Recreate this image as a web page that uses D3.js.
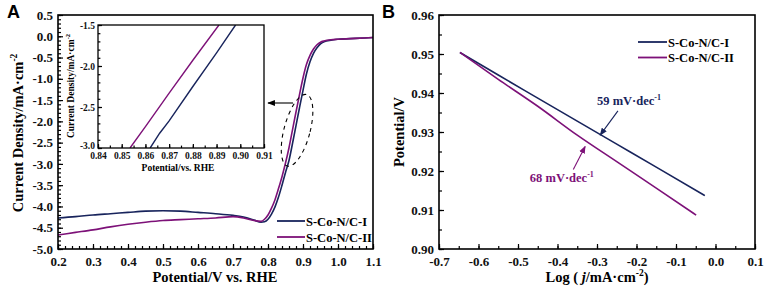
<!DOCTYPE html>
<html>
<head>
<meta charset="utf-8">
<script src="https://cdn.jsdelivr.net/npm/d3@7"></script>
<style>
  body { margin: 0; background: #fff; }
  svg text { font-family: "Liberation Serif", "Times New Roman", serif; font-weight: 700; }
  svg text.panel { font-family: "Liberation Sans", Arial, sans-serif; }
</style>
</head>
<body>
<div id="chart"></div>
<script>
// ---- data ----
const seriesNames = ["S-Co-N/C-I", "S-Co-N/C-II"];
const colors = ["#18245c", "#7d1178"];

// panel A: LSV curves
const lsvPotential = [0.20, 0.25, 0.30, 0.35, 0.40, 0.45, 0.50, 0.55, 0.60, 0.65, 0.70, 0.73, 0.76, 0.78, 0.79,
  0.80, 0.81, 0.82, 0.83, 0.84, 0.85, 0.86, 0.87, 0.88, 0.89, 0.90, 0.91, 0.92, 0.93, 0.94, 0.95, 0.96, 0.98, 1.00, 1.05, 1.10];
const lsvI = [-4.27, -4.24, -4.20, -4.17, -4.14, -4.11, -4.10, -4.11, -4.14, -4.17, -4.21, -4.25, -4.32, -4.37, -4.36,
  -4.30, -4.18, -4.01, -3.78, -3.50, -3.20, -2.92, -2.52, -2.10, -1.68, -1.27, -0.88, -0.60, -0.40, -0.27, -0.18, -0.13, -0.09, -0.07, -0.05, -0.03];
const lsvII = [-4.67, -4.61, -4.55, -4.48, -4.42, -4.37, -4.33, -4.31, -4.29, -4.27, -4.24, -4.27, -4.33, -4.35, -4.30,
  -4.20, -4.04, -3.84, -3.58, -3.30, -2.98, -2.62, -2.20, -1.78, -1.37, -0.98, -0.66, -0.45, -0.30, -0.20, -0.14, -0.11, -0.08, -0.07, -0.05, -0.03];

// inset (zoom of the rise)
const insetPotI = [0.862, 0.866, 0.870, 0.880, 0.890, 0.898];
const insetJI = [-3.00, -2.82, -2.67, -2.25, -1.84, -1.50];
const insetPotII = [0.8535, 0.860, 0.870, 0.880, 0.891];
const insetJII = [-3.00, -2.74, -2.33, -1.93, -1.50];

// panel B: Tafel plots
const tafelLogI = [-0.647, -0.55, -0.45, -0.35, -0.25, -0.15, -0.027];
const tafelPotI = [0.9504, 0.9446, 0.9387, 0.9328, 0.9269, 0.9210, 0.9137];
const tafelLogII = [-0.647, -0.55, -0.45, -0.35, -0.25, -0.15, -0.049];
const tafelPotII = [0.9504, 0.9435, 0.9366, 0.9292, 0.9224, 0.9156, 0.9087];
const tafelSlopes = ["59", "68"];

const W = 765, H = 287;
const svg = d3.select("#chart").append("svg").attr("width", W).attr("height", H);

const defs = svg.append("defs");
["#000"].concat(colors).forEach((c, i) => {
  defs.append("marker")
    .attr("id", "arr" + i).attr("viewBox", "0 0 10 10").attr("refX", 9).attr("refY", 5)
    .attr("markerWidth", 7).attr("markerHeight", 7).attr("orient", "auto")
    .append("path").attr("d", "M0,1 L10,5 L0,9 Z").attr("fill", c);
});

function zip(xs, ys) { return xs.map((x, i) => [x, ys[i]]); }

// draws inward ticks + labels on left/bottom, plus a frame
function frame(g, x, y, opt) {
  const xr = x.range(), yr = y.range();
  const xAx = d3.axisBottom(x).tickValues(opt.xTicks).tickFormat(opt.xFmt)
    .tickSizeInner(-opt.tick).tickSizeOuter(0).tickPadding(opt.xPad);
  const yAx = d3.axisLeft(y).tickValues(opt.yTicks).tickFormat(opt.yFmt)
    .tickSizeInner(-opt.tick).tickSizeOuter(0).tickPadding(opt.yPad);
  const gx = g.append("g").attr("transform", `translate(0,${yr[0]})`).call(xAx);
  const gy = g.append("g").attr("transform", `translate(${xr[0]},0)`).call(yAx);
  g.append("g").attr("transform", `translate(0,${yr[0]})`)
    .call(d3.axisBottom(x).tickValues(opt.xMinor).tickFormat("").tickSizeInner(-opt.tick * 0.6).tickSizeOuter(0));
  g.append("g").attr("transform", `translate(${xr[0]},0)`)
    .call(d3.axisLeft(y).tickValues(opt.yMinor).tickFormat("").tickSizeInner(-opt.tick * 0.6).tickSizeOuter(0));
  g.selectAll(".domain").remove();
  g.selectAll(".tick line").attr("stroke", "#000").attr("stroke-width", 1.2);
  [gx, gy].forEach(a => {
    a.attr("font-size", opt.font).attr("font-family", null);
    a.selectAll("text").attr("fill", "#111");
  });
  g.append("rect").attr("x", xr[0]).attr("y", yr[1])
    .attr("width", xr[1] - xr[0]).attr("height", yr[0] - yr[1])
    .attr("fill", "none").attr("stroke", "#000").attr("stroke-width", opt.frameW);
  return { gx, gy };
}

const minus = f => (d => f(d).replace("−", "-"));

// ---------- Panel A ----------
const xA = d3.scaleLinear().domain([0.2, 1.1]).range([58, 373]);
const yA = d3.scaleLinear().domain([-5.0, 0.5]).range([249, 15]);
const gA = svg.append("g");

const lineA = d3.line().x(d => xA(d[0])).y(d => yA(d[1])).curve(d3.curveMonotoneX);
[lsvI, lsvII].forEach((s, i) => {
  gA.append("path").datum(zip(lsvPotential, s))
    .attr("fill", "none").attr("stroke", colors[i]).attr("stroke-width", 1.6).attr("d", lineA);
});

frame(gA, xA, yA, {
  xTicks: d3.range(0.2, 1.1001, 0.1), yTicks: d3.range(-5, 0.5001, 0.5),
  xMinor: d3.range(0.2, 1.1001, 0.02), yMinor: d3.range(-5, 0.5001, 0.1),
  xFmt: d3.format(".1f"), yFmt: minus(d3.format(".1f")),
  tick: 5, xPad: 8, yPad: 5, font: 13, frameW: 1.6
});

// dashed ellipse + arrow
gA.append("ellipse")
  .attr("transform", `translate(${xA(0.883)},${yA(-2.21)}) rotate(15)`)
  .attr("rx", 13).attr("ry", 37)
  .attr("fill", "none").attr("stroke", "#000").attr("stroke-width", 1.1).attr("stroke-dasharray", "4,4");
gA.append("line")
  .attr("x1", 293).attr("y1", 103).attr("x2", 268).attr("y2", 103)
  .attr("stroke", "#000").attr("stroke-width", 1.1).attr("marker-end", "url(#arr0)");

// legend A
seriesNames.forEach((n, i) => {
  const ly = 221 + i * 16;
  gA.append("line").attr("x1", 277).attr("x2", 305).attr("y1", ly).attr("y2", ly)
    .attr("stroke", colors[i]).attr("stroke-width", 1.8);
  gA.append("text").attr("x", 306).attr("y", ly + 4.5).attr("font-size", 12.5).text(n);
});

// titles A
gA.append("text").attr("x", 215).attr("y", 282).attr("text-anchor", "middle").attr("font-size", 14.5)
  .text("Potential/V vs. RHE");
const tA = gA.append("text").attr("transform", "translate(23,133) rotate(-90)")
  .attr("text-anchor", "middle").attr("font-size", 14.5);
tA.append("tspan").text("Current Density/mA·cm");
tA.append("tspan").attr("dy", -6).attr("font-size", 9.5).text("-2");

gA.append("text").attr("class", "panel").attr("x", 7).attr("y", 18).attr("font-size", 18).text("A");

// inset
const xI = d3.scaleLinear().domain([0.84, 0.91]).range([98, 264]);
const yI = d3.scaleLinear().domain([-3.0, -1.5]).range([148, 25]);
const gI = gA.append("g");
gI.append("rect").attr("x", 98).attr("y", 25).attr("width", 166).attr("height", 123).attr("fill", "#fff");
gI.append("clipPath").attr("id", "clipI").append("rect")
  .attr("x", 98).attr("y", 25).attr("width", 166).attr("height", 123);
const lineI = d3.line().x(d => xI(d[0])).y(d => yI(d[1]));
[[insetPotI, insetJI], [insetPotII, insetJII]].forEach((s, i) => {
  gI.append("path").datum(zip(s[0], s[1])).attr("clip-path", "url(#clipI)")
    .attr("fill", "none").attr("stroke", colors[i]).attr("stroke-width", 1.4).attr("d", lineI);
});
const fI = frame(gI, xI, yI, {
  xTicks: d3.range(0.84, 0.9101, 0.01), yTicks: d3.range(-3, -1.4999, 0.5),
  xMinor: d3.range(0.84, 0.9101, 0.005), yMinor: d3.range(-3, -1.4999, 0.1),
  xFmt: d3.format(".2f"), yFmt: minus(d3.format(".1f")),
  tick: 4, xPad: 4, yPad: 3, font: 9.5, frameW: 1.3
});
// lift the lowest inset y label so it clears the x labels
fI.gy.selectAll(".tick text").filter(d => d < -2.99).attr("dy", "0.1em");
gI.append("text").attr("x", 178).attr("y", 171).attr("text-anchor", "middle").attr("font-size", 9.5)
  .text("Potential/vs. RHE");
const tI = gI.append("text").attr("transform", "translate(74,86) rotate(-90)")
  .attr("text-anchor", "middle").attr("font-size", 9.5);
tI.append("tspan").text("Current Density/mA·cm");
tI.append("tspan").attr("dy", -4).attr("font-size", 6.5).text("-2");

// ---------- Panel B ----------
const xB = d3.scaleLinear().domain([-0.7, 0.1]).range([439, 755]);
const yB = d3.scaleLinear().domain([0.90, 0.96]).range([249, 15]);
const gB = svg.append("g");
const lineB = d3.line().x(d => xB(d[0])).y(d => yB(d[1])).curve(d3.curveMonotoneX);
[[tafelLogI, tafelPotI], [tafelLogII, tafelPotII]].forEach((s, i) => {
  gB.append("path").datum(zip(s[0], s[1]))
    .attr("fill", "none").attr("stroke", colors[i]).attr("stroke-width", 1.6).attr("d", lineB);
});
frame(gB, xB, yB, {
  xTicks: d3.range(-0.7, 0.1001, 0.1), yTicks: d3.range(0.90, 0.9601, 0.01),
  xMinor: d3.range(-0.7, 0.1001, 0.05), yMinor: d3.range(0.90, 0.9601, 0.005),
  xFmt: minus(d3.format(".1f")), yFmt: d3.format(".2f"),
  tick: 5, xPad: 8, yPad: 5, font: 13, frameW: 1.6
});

// slope annotations
const ann = [
  { tx: -0.30, ty: 0.9370, x1: -0.247, y1: 0.9354, x2: -0.292, y2: 0.9292 },
  { tx: -0.47, ty: 0.9172, x1: -0.36, y1: 0.9204, x2: -0.330, y2: 0.9263 }
];
ann.forEach((a, i) => {
  gB.append("line").attr("x1", xB(a.x1)).attr("y1", yB(a.y1)).attr("x2", xB(a.x2)).attr("y2", yB(a.y2))
    .attr("stroke", colors[i]).attr("stroke-width", 1.1).attr("marker-end", `url(#arr${i + 1})`);
  const t = gB.append("text").attr("x", xB(a.tx)).attr("y", yB(a.ty)).attr("font-size", 12.5).attr("fill", colors[i]);
  t.append("tspan").text(tafelSlopes[i] + " mV·dec");
  t.append("tspan").attr("dy", -5).attr("font-size", 8).text("-1");
});

// legend B
seriesNames.forEach((n, i) => {
  const ly = 42 + i * 15.5;
  gB.append("line").attr("x1", 638).attr("x2", 667).attr("y1", ly).attr("y2", ly)
    .attr("stroke", colors[i]).attr("stroke-width", 1.8);
  gB.append("text").attr("x", 668).attr("y", ly + 4.5).attr("font-size", 12.5).text(n);
});

// titles B
const tBx = gB.append("text").attr("x", 597).attr("y", 282).attr("text-anchor", "middle").attr("font-size", 14.5);
tBx.append("tspan").text("Log ( ");
tBx.append("tspan").attr("font-style", "italic").text("j");
tBx.append("tspan").text("/mA·cm");
tBx.append("tspan").attr("dy", -6).attr("font-size", 9.5).text("-2");
tBx.append("tspan").attr("dy", 6).text(")");
gB.append("text").attr("transform", "translate(404,132) rotate(-90)")
  .attr("text-anchor", "middle").attr("font-size", 14.5).text("Potential/V");

gB.append("text").attr("class", "panel").attr("x", 382).attr("y", 18).attr("font-size", 18).text("B");
</script>
</body>
</html>
